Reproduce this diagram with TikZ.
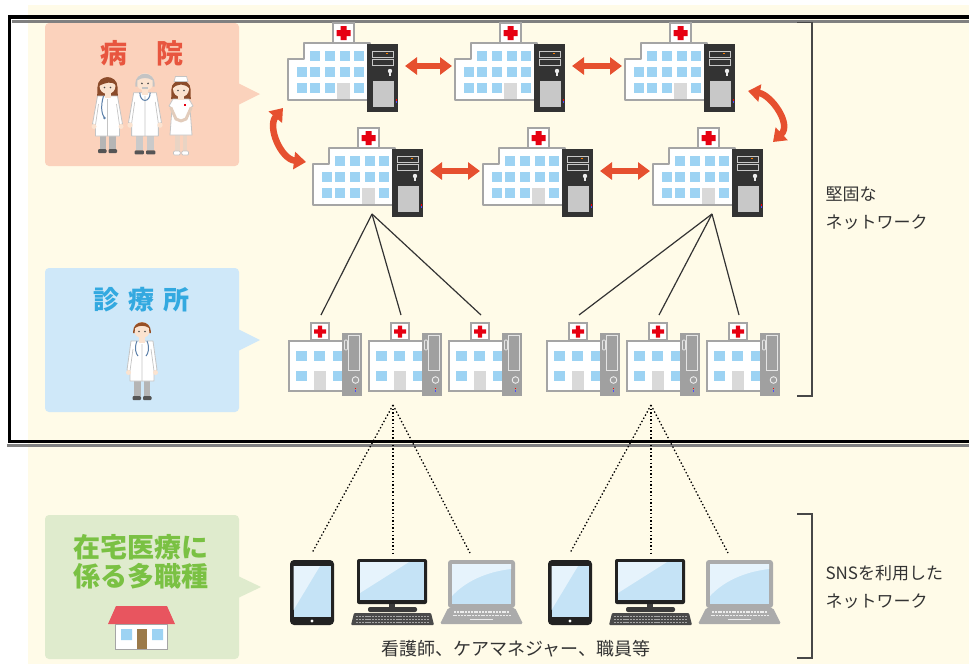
\documentclass[tikz,border=0pt]{standalone}
\usepackage{fontspec}
\newfontfamily\jp{Noto Sans CJK JP}
\usetikzlibrary{arrows.meta}

\definecolor{cream}{HTML}{FFFBE8}
\definecolor{salmon}{HTML}{FBD2BC}
\definecolor{skyfill}{HTML}{CFE8F9}
\definecolor{leaf}{HTML}{DFEBCD}
\definecolor{titlered}{HTML}{E8563F}
\definecolor{titleblue}{HTML}{33A9E0}
\definecolor{titlegreen}{HTML}{7AC143}
\definecolor{arrowred}{HTML}{E6502F}
\definecolor{crossred}{HTML}{E60012}
\definecolor{winblue}{HTML}{9DD3F3}
\definecolor{doorgray}{HTML}{D9D9D9}
\definecolor{edgegray}{HTML}{A5A5A5}
\definecolor{srvdark}{HTML}{333333}
\definecolor{srvpanel}{HTML}{C8C8C8}
\definecolor{towergray}{HTML}{A0A0A0}
\definecolor{devblack}{HTML}{222222}
\definecolor{devdark}{HTML}{3A3A3A}
\definecolor{kbdgray}{HTML}{4A4A4A}
\definecolor{lapgray}{HTML}{ABABAB}
\definecolor{screenblue}{HTML}{C5E3F6}
\definecolor{screenlight}{HTML}{E6F3FC}
\definecolor{skin}{HTML}{FBE3D0}
\definecolor{hairbrown}{HTML}{8B4B2A}
\definecolor{hairgray}{HTML}{C4C4C4}
\definecolor{pantsgray}{HTML}{B5B5B5}
\definecolor{pantslight}{HTML}{CACACA}
\definecolor{shoe}{HTML}{555555}
\definecolor{coatline}{HTML}{C4C4C4}
\definecolor{steth}{HTML}{5B7FA8}
\definecolor{roofred}{HTML}{E8555F}
\definecolor{doorbrown}{HTML}{9B7A4A}
\definecolor{labeltext}{HTML}{333333}

\tikzset{
  panel/.style={rounded corners=4pt},
  edge/.style={draw=edgegray, line width=1.1pt},
  link/.style={draw=arrowred, line width=6.5pt,
    {Triangle[width=17pt,length=12pt]}-{Triangle[width=17pt,length=12pt]}},
  solidlink/.style={draw=labeltext, line width=1.2pt},
  dotlink/.style={draw=black, line width=1.3pt, dash pattern=on 1.4pt off 2.2pt},
  bracket/.style={draw=labeltext!90, line width=1.4pt},
  sidelabel/.style={font=\jp\fontsize{17}{28}\selectfont, text=labeltext, align=left, anchor=west},
  % large hospital with server tower; origin = left/top reference
  pics/hospital/.style={code={
    \draw[edge, fill=white] (43,1) rectangle (64,21);
    \fill[crossred] (50.5,4) rectangle (56.5,18) (46.5,8) rectangle (60.5,14);
    \draw[edge, fill=white, line join=round] (14,21) -- (80,21) -- (80,78) -- (-2,78) -- (-2,37) -- (14,37) -- cycle;
    \foreach \wx in {20,35,50,64} \fill[winblue] (\wx,29) rectangle ++(10,10);
    \foreach \wx in {7,20,35,50,64} \fill[winblue] (\wx,45) rectangle ++(10,10);
    \foreach \wx in {7,20,35,64} \fill[winblue] (\wx,61) rectangle ++(10,10);
    \fill[doorgray] (47,61) rectangle (60,77.4);
    \fill[srvdark] (77,22) rectangle (108,90);
    \draw[srvpanel, line width=0.9pt] (82,29) rectangle (103,35) (82,37) rectangle (103,43);
    \fill[orange] (96,31) rectangle (98,32);
    \fill[white!85!gray] (100,49) circle (2.2);
    \fill[white!85!gray] (99.2,50) rectangle (100.8,54);
    \fill[srvpanel] (83,59) rectangle (104,85);
    \fill[red] (106,77) rectangle (107,78.5);
    \fill[blue!70] (106,79) rectangle (107,80.5);
    \coordinate (-west) at (-5,44);
    \coordinate (-east) at (115,44);
    \coordinate (-bot) at (57,87);
    \coordinate (-sw) at (-7,86);
    \coordinate (-nw) at (-9,35);
    \coordinate (-se) at (121,69);
    \coordinate (-ne) at (118,15);
  }},
  % small clinic with desktop tower; origin = building left / sign top
  pics/clinic/.style={code={
    \draw[edge, fill=white] (22,0) rectangle (40,17);
    \fill[crossred] (28.8,2.5) rectangle (33.2,14.5) (25,6.3) rectangle (37,10.7);
    \draw[edge, fill=white] (0,18) rectangle (56,68);
    \foreach \wx in {7,25,44} \fill[winblue] (\wx,28) rectangle ++(11,10);
    \foreach \wx in {7,44} \fill[winblue] (\wx,48) rectangle ++(11,10);
    \fill[doorgray] (25,48) rectangle (37,67.4);
    \fill[towergray] (53,10) rectangle (73,73);
    \draw[white!80!gray, line width=0.8pt] (59.5,12.5) rectangle (70,47);
    \draw[white!80!gray, line width=0.8pt, rounded corners=1pt] (55.5,17) rectangle (58.5,27);
    \draw[white!85!gray, line width=0.9pt] (66.5,57) circle (3.3);
    \fill[red] (66,64.5) rectangle (67.2,66);
    \fill[blue!70] (66,67) rectangle (67.2,68.5);
    \coordinate (-top) at (32,-8);
    \coordinate (-bot) at (24,82);
  }},
  pics/tablet/.style={code={
    \fill[devblack, rounded corners=4pt] (0,0) rectangle (44,65);
    \fill[screenblue] (3.5,6) rectangle (40.5,57);
    \fill[screenlight] (3.5,6) -- (30,6) -- (3.5,50) -- cycle;
    \fill[white] (22,61) circle (1.6);
    \coordinate (-top) at (22,-7);
  }},
  pics/desktop/.style={code={
    \fill[devblack, rounded corners=2pt] (0,0) rectangle (70,45);
    \fill[screenblue] (3,3) rectangle (67,41);
    \fill[screenlight] (3,3) -- (52,3) -- (3,34) -- cycle;
    \fill[devdark] (32,45) rectangle (38,49);
    \fill[devdark, rounded corners=2pt] (11,48) rectangle (60,53);
    \fill[kbdgray, rounded corners=1pt] (-3,54) -- (74,54) -- (77,66) -- (-6,66) -- cycle;
    \foreach \ky in {57.5,60.5,63.5}
      \draw[gray!70, line width=1pt, dash pattern=on 2.2pt off 0.9pt] (-1,\ky) -- (72,\ky);
    \coordinate (-top) at (36,-6);
  }},
  pics/laptop/.style={code={
    \fill[lapgray, rounded corners=3pt] (8,0) rectangle (75,48);
    \fill[screenblue] (12,4) rectangle (71,44);
    \fill[screenlight] (12,4) -- (71,4) -- (71,9) .. controls (45,12) and (25,22) .. (12,36) -- cycle;
    \fill[lapgray, rounded corners=1.5pt] (8,48) -- (75,48) -- (83,64) -- (0,64) -- cycle;
    \foreach \ky/\kl/\kr in {52/14/69,55.5/12.5/70.5}
      \draw[white!85!gray, line width=1.2pt, dash pattern=on 2pt off 0.8pt] (\kl,\ky) -- (\kr,\ky);
    \draw[white!85!gray, line width=1.2pt] (30,59.5) -- (53,59.5);
    \coordinate (-top) at (30,-7);
  }},
  % staff figures; origin = top of the head
  pics/femaledoc/.style={code={
    \fill[hairbrown] (-10,13) .. controls (-10,0) and (10,0) .. (10,13) -- (10.5,27) -- (-10.5,27) -- cycle;
    \fill[pantsgray] (-8,58) rectangle (-1.5,75);
    \fill[pantsgray] (1.5,58) rectangle (8,75);
    \fill[shoe, rounded corners=1pt] (-9.5,75) rectangle (-1,79) (1,75) rectangle (9.5,79);
    \draw[coatline, fill=white, line join=round, line width=0.8pt] (-10,22) -- (10,22) -- (15,50) -- (12,51) -- (12,62) -- (-12,62) -- (-12,51) -- (-15,50) -- cycle;
    \draw[coatline, line width=0.7pt] (0,25) -- (0,62) (-12,51) -- (-9,30) (12,51) -- (9,30);
    \fill[skin] (-13.5,52.5) circle (2.5) (13.5,52.5) circle (2.5);
    \fill[skin] (-3,18) rectangle (3,24);
    \draw[steth, line width=1pt] (-4,22) .. controls (-7,32) and (-6,40) .. (-3,44);
    \fill[steth] (-3,44) circle (1.3);
    \fill[skin] (0,12) circle (8);
    \fill[hairbrown] (-8.8,12) arc[start angle=180, end angle=360, radius=8.8] .. controls (5,6) and (-3,9) .. (-8.8,12) -- cycle;
    \fill[black!70] (-3,13.5) circle (0.9) (3,13.5) circle (0.9);
  }},
  pics/olddoc/.style={code={
    \fill[pantslight] (-8.5,60) rectangle (-1.5,79);
    \fill[pantslight] (1.5,60) rectangle (8.5,79);
    \fill[shoe, rounded corners=1pt] (-10,79) rectangle (-1,83) (1,79) rectangle (10,83);
    \draw[coatline, fill=white, line join=round, line width=0.8pt] (-11,23) -- (11,23) -- (16,52) -- (13,53) -- (13,65) -- (-13,65) -- (-13,53) -- (-16,52) -- cycle;
    \draw[coatline, line width=0.7pt] (0,26) -- (0,65) (-13,53) -- (-10,32) (13,53) -- (10,32);
    \fill[skin] (-14.5,54.5) circle (2.6) (14.5,54.5) circle (2.6);
    \fill[skin] (-3,19) rectangle (3,25);
    \draw[steth, line width=1pt] (-5,23) .. controls (-5,33) and (5,33) .. (5,23);
    \fill[skin] (0,12.5) circle (8.5);
    \fill[hairgray] (-9.4,14) arc[start angle=180, end angle=360, radius=9.4] -- (9.4,17) -- (7.5,17) -- (7.5,11) .. controls (3,8) and (-3,8) .. (-7.5,11) -- (-7.5,17) -- (-9.4,17) -- cycle;
    \fill[black!70] (-3,14) circle (0.9) (3,14) circle (0.9);
    \draw[hairgray, line width=1.3pt] (-3,18.5) -- (3,18.5);
  }},
  pics/nursefig/.style={code={
    \fill[hairbrown] (-9.5,12) .. controls (-9.5,1) and (9.5,1) .. (9.5,12) -- (9.8,22) -- (-9.8,22) -- cycle;
    \fill[skin!85!gray] (-6,57) rectangle (-1.5,74);
    \fill[skin!85!gray] (1.5,57) rectangle (6,74);
    \draw[coatline, fill=white, rounded corners=1pt, line width=0.7pt] (-7.5,74) rectangle (-0.8,78) (0.8,74) rectangle (7.5,78);
    \draw[coatline, fill=white, line join=round, line width=0.8pt] (-8,22) -- (8,22) -- (12,29) -- (9,31) -- (11,58) -- (-11,58) -- (-9,31) -- (-12,29) -- cycle;
    \draw[skin!90!black, line width=3pt, line cap=round] (-10,31) -- (-5,42) -- (0,44) (10,31) -- (5,42) -- (0,44);
    \fill[crossred] (3,27) rectangle (5,29);
    \fill[skin] (-3,17) rectangle (3,23);
    \fill[skin] (0,12) circle (8);
    \fill[hairbrown] (-8.8,12) arc[start angle=180, end angle=360, radius=8.8] .. controls (4,6) and (-4,6) .. (-8.8,12) -- cycle;
    \draw[coatline, fill=white, line width=0.7pt] (-7,4.5) -- (7,4.5) -- (5.5,-0.5) -- (-5.5,-0.5) -- cycle;
    \fill[black!70] (-3,13.5) circle (0.9) (3,13.5) circle (0.9);
  }},
  pics/maledoc/.style={code={
    \fill[pantsgray] (-8,60) rectangle (-1.5,78);
    \fill[pantsgray] (1.5,60) rectangle (8,78);
    \fill[shoe, rounded corners=1pt] (-9.5,78) rectangle (-1,82) (1,78) rectangle (9.5,82);
    \draw[coatline, fill=white, line join=round, line width=0.8pt] (-11,23) -- (11,23) -- (15,52) -- (12,53) -- (12,63) -- (-12,63) -- (-12,53) -- (-15,52) -- cycle;
    \draw[coatline, line width=0.7pt] (0,26) -- (0,63) (-12,53) -- (-9,31) (12,53) -- (9,31);
    \fill[skin] (-13.5,54.5) circle (2.5) (13.5,54.5) circle (2.5);
    \fill[skin] (-3,18) rectangle (3,25);
    \draw[steth, line width=1pt] (-5,23) .. controls (-8,30) and (-6,36) .. (-4,38) (5,23) .. controls (8,30) and (6,36) .. (4,38);
    \fill[skin] (0,12) circle (8);
    \fill[hairbrown!90!orange] (-8.8,13) arc[start angle=180, end angle=360, radius=8.8] -- (8.8,15) -- (7.4,15) -- (7,10) .. controls (3,7) and (-3,7) .. (-7,10) -- (-7.4,15) -- (-8.8,15) -- cycle;
    \fill[black!70] (-3,13.5) circle (0.9) (3,13.5) circle (0.9);
  }},
}

\begin{document}
\begin{tikzpicture}[x=1pt, y=-1pt]
\useasboundingbox (0,0) rectangle (969,664);
\clip (0,0) rectangle (969,664);

% page and cream area
\fill[white] (0,0) rectangle (969,664);
\fill[cream] (28,5) rectangle (969,664);

% double-lined frame round the fixed network
\draw[black, line width=3.5pt] (9.5,17) rectangle (990,441.5);
\draw[gray, line width=3pt] (11.5,21.8) -- (969,21.8);
\draw[gray, line width=3pt] (7,445.3) -- (969,445.3);

% callout panels
\fill[salmon, panel] (45,23) rectangle (239,166);
\fill[salmon] (238,83) -- (260,94) -- (238,105) -- cycle;
\fill[skyfill, panel] (45,268) rectangle (239,412);
\fill[skyfill] (238,329) -- (260,340) -- (238,351) -- cycle;
\fill[leaf, panel] (45,515) rectangle (239,659);
\fill[leaf] (238,576) -- (261,587) -- (238,598) -- cycle;

\node[font=\jp\bfseries\fontsize{27}{30}\selectfont, text=titlered] (tHosp) at (142,53) {病\hspace{30pt}院};
\node[font=\jp\bfseries\fontsize{26}{30}\selectfont, text=titleblue] (tClin) at (141.5,299.5) {診\hspace{9pt}療\hspace{9pt}所};
\node[font=\jp\bfseries\fontsize{27}{29}\selectfont, text=titlegreen, align=center] (tHome) at (141,561.5) {在宅医療に\\係る多職種};

% staff figures
\pic (p1) at (107.5,74) {femaledoc};
\pic[scale=1.03] (p2) at (145,69) {olddoc};
\pic (p3) at (181,77) {nursefig};
\pic (p4) at (142,318) {maledoc};

% house
\fill[roofred] (108,624) -- (116,606) -- (167,606) -- (175,624) -- cycle;
\draw[edgegray, fill=white, line width=1pt] (115.5,624) rectangle (167.5,649);
\fill[winblue] (121,629) rectangle (132,640) (152,629) rectangle (163,640);
\fill[doorbrown] (137,629) rectangle (147,649);

% hospitals
\pic (h1) at (290,22) {hospital};
\pic (h2) at (457,22) {hospital};
\pic (h3) at (627,22) {hospital};
\pic (h4) at (315,127) {hospital};
\pic (h5) at (485,127) {hospital};
\pic (h6) at (655,127) {hospital};

% clinics
\pic (c1) at (289,323) {clinic};
\pic (c2) at (369,323) {clinic};
\pic (c3) at (449,323) {clinic};
\pic (c4) at (547,323) {clinic};
\pic (c5) at (627,323) {clinic};
\pic (c6) at (707,323) {clinic};

% devices
\pic (d1) at (290,560) {tablet};
\pic (d2) at (357,559) {desktop};
\pic (d3) at (440,560) {laptop};
\pic (d4) at (548,560) {tablet};
\pic (d5) at (615,559) {desktop};
\pic (d6) at (698,560) {laptop};

% hospital-to-hospital links
\draw[link] (h1-east) -- (h2-west);
\draw[link] (h2-east) -- (h3-west);
\draw[link] (h4-east) -- (h5-west);
\draw[link] (h5-east) -- (h6-west);
\draw[link] (h1-sw) .. controls (267,127) and (281,159) .. (h4-nw);
\draw[link] (h3-se) .. controls (771,95) and (792,124) .. (h6-ne);

% hospital-to-clinic lines
\draw[solidlink] (h4-bot) -- (c1-top);
\draw[solidlink] (h4-bot) -- (c2-top);
\draw[solidlink] (h4-bot) -- (c3-top);
\draw[solidlink] (h6-bot) -- (c4-top);
\draw[solidlink] (h6-bot) -- (c5-top);
\draw[solidlink] (h6-bot) -- (c6-top);

% clinic-to-device lines
\draw[dotlink] (c2-bot) -- (d1-top);
\draw[dotlink] (c2-bot) -- (d2-top);
\draw[dotlink] (c2-bot) -- (d3-top);
\draw[dotlink] (c5-bot) -- (d4-top);
\draw[dotlink] (c5-bot) -- (d5-top);
\draw[dotlink] (c5-bot) -- (d6-top);

\node[font=\jp\fontsize{18}{20}\selectfont, text=labeltext] (staff) at (516,649) {看護師、ケアマネジャー、職員等};

% brackets and their labels
\draw[bracket] (797,22.5) -- (812,22.5) -- (812,396) -- (797,396);
\node[sidelabel] (fixedNet) at (822,208) {堅固な\\ネットワーク};
\draw[bracket] (797,514) -- (812,514) -- (812,658) -- (797,658);
\node[sidelabel] (snsNet) at (822,587) {SNSを利用した\\ネットワーク};

\end{tikzpicture}
\end{document}
